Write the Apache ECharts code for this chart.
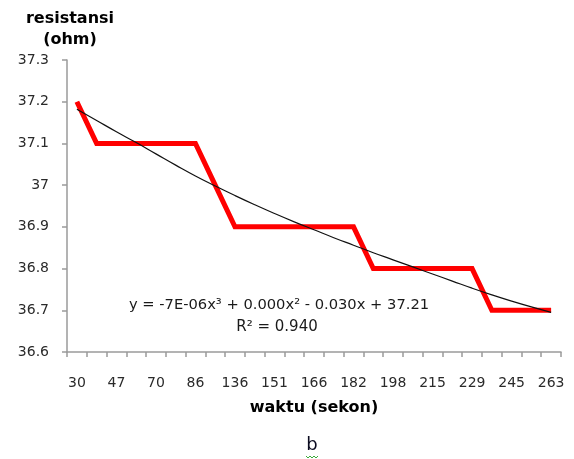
<!DOCTYPE html>
<html>
<head>
<meta charset="utf-8">
<script src="https://cdn.jsdelivr.net/npm/echarts@6/dist/echarts.min.js"></script>
<style>
html,body{margin:0;padding:0;background:#fff;}
#c{width:574px;height:459px;}
</style>
</head>
<body>
<div id="c"></div>
<script>
// categories (waktu, sekon); only every second one is labelled in the reference
var waktu = ['30','38','47','58','70','78','86','110','136','143','151','158','166','174','182','190','198','206','215','222','229','237','245','254','263'];
// resistansi (ohm)
var resistansi = [37.2,37.1,37.1,37.1,37.1,37.1,37.1,37.0,36.9,36.9,36.9,36.9,36.9,36.9,36.9,36.8,36.8,36.8,36.8,36.8,36.8,36.7,36.7,36.7,36.7];
// polynomial trendline
var trend = [37.182,37.155,37.128,37.102,37.075,37.048,37.022,36.998,36.975,36.953,36.932,36.912,36.893,36.874,36.856,36.838,36.821,36.804,36.787,36.770,36.753,36.737,36.722,36.708,36.695];
var yMin = 36.6, yMax = 37.3, yStep = 0.1;
var eqText = 'y = -7E-06x³ + 0.000x² - 0.030x + 37.21';
var r2Text = 'R² = 0.940';

var chart = echarts.init(document.getElementById('c'), null, {renderer:'canvas'});
var font = 'DejaVu Sans';
chart.setOption({
  animation:false,
  backgroundColor:'#ffffff',
  grid:{left:67, top:60, right:13, bottom:107, containLabel:false},
  xAxis:{
    type:'category', data:waktu, boundaryGap:true,
    axisLine:{lineStyle:{color:'#9a9a9a', width:1.5}},
    axisTick:{show:true, interval:0, length:5, lineStyle:{color:'#9a9a9a', width:1.5}},
    axisLabel:{interval:1, margin:24, color:'#2a2a2a', fontFamily:font, fontSize:14},
    splitLine:{show:false}
  },
  yAxis:{
    type:'value', min:yMin, max:yMax, interval:yStep,
    axisLine:{show:true, lineStyle:{color:'#9a9a9a', width:1.5}},
    axisTick:{show:true, length:5, lineStyle:{color:'#9a9a9a', width:1.5}},
    axisLabel:{margin:18, color:'#2a2a2a', fontFamily:font, fontSize:14,
      formatter:function(v){return String(+v.toFixed(1));}},
    splitLine:{show:false}
  },
  series:[
    {type:'line', data:resistansi, symbol:'none', z:2,
     lineStyle:{color:'#ff0000', width:5, join:'miter', cap:'butt'}},
    {type:'line', data:trend, symbol:'none', smooth:true, z:3,
     lineStyle:{color:'#111111', width:1.2}}
  ],
  graphic:[
    {type:'text', x:70, y:19, style:{text:'resistansi', fontFamily:font, fontWeight:'bold', fontSize:16, fill:'#000', align:'center', verticalAlign:'middle'}},
    {type:'text', x:70, y:40, style:{text:'(ohm)', fontFamily:font, fontWeight:'bold', fontSize:16, fill:'#000', align:'center', verticalAlign:'middle'}},
    {type:'text', x:314, y:408, style:{text:'waktu (sekon)', fontFamily:font, fontWeight:'bold', fontSize:16, fill:'#000', align:'center', verticalAlign:'middle'}},
    {type:'text', x:279, y:305, style:{text:eqText, fontFamily:font, fontSize:14.7, fill:'#1a1a1a', align:'center', verticalAlign:'middle'}},
    {type:'text', x:277, y:327, style:{text:r2Text, fontFamily:font, fontSize:15, fill:'#1a1a1a', align:'center', verticalAlign:'middle'}},
    {type:'text', x:312, y:445, style:{text:'b', fontFamily:font, fontSize:18, fill:'#0b0b20', align:'center', verticalAlign:'middle'}},
    {type:'polyline', shape:{points:[[306,456],[308,458],[310,456],[312,458],[314,456],[316,458],[318,456]]}, style:{stroke:'#3aaa3a', lineWidth:1, fill:null}}
  ]
});
</script>
</body>
</html>
